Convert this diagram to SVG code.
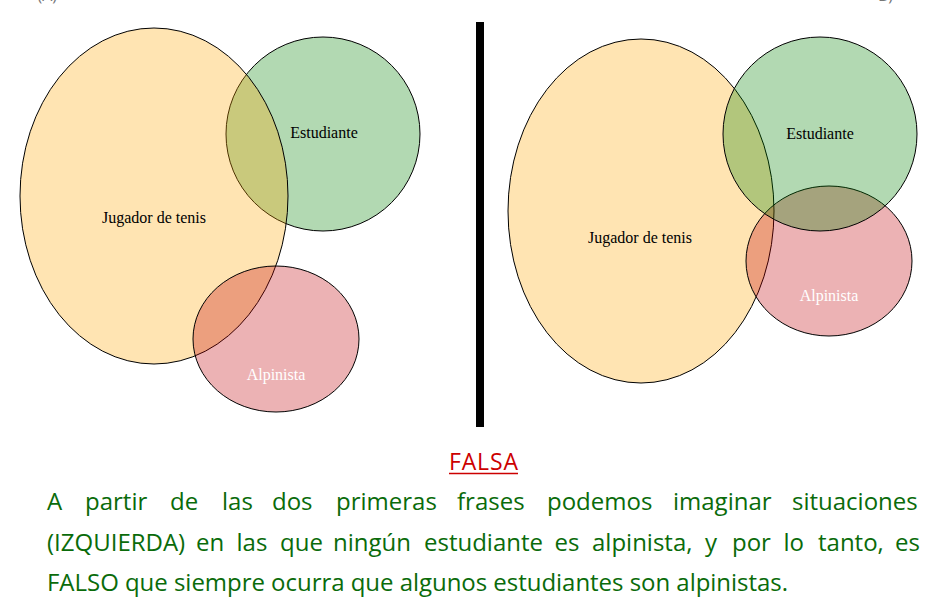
<svg xmlns="http://www.w3.org/2000/svg" width="950" height="601" viewBox="0 0 950 601">
<style>
.set{stroke:#000;stroke-width:1}
.ten{fill:#FFA500;fill-opacity:0.3}
.stu{fill:#008000;fill-opacity:0.3}
.alp{fill:#C00008;fill-opacity:0.3}
.lbl{font-family:"Liberation Serif",serif;font-size:16px;text-anchor:middle;fill:#000}
.wlbl{fill:#fff}
.para{font-family:"Open Sans","Noto Sans",sans-serif;font-size:24px;fill:#0A6B0A}
.corner{font-family:"Open Sans",sans-serif;font-size:16px;fill:#777}
</style>
<rect width="950" height="601" fill="#fff"/>
<text class="corner" x="57" y="1" text-anchor="end">(A)</text>
<text class="corner" x="893" y="1" text-anchor="end">B)</text>

<g id="left">
  <g id="L-estudiante"><circle class="set stu" cx="323" cy="134" r="97"/></g>
  <g id="L-tenis"><ellipse class="set ten" cx="154" cy="196" rx="134" ry="168"/></g>
  <g id="L-alpinista"><ellipse class="set alp" cx="276" cy="339" rx="83" ry="73"/></g>
  <text class="lbl" x="324" y="138">Estudiante</text>
  <text class="lbl" x="154" y="223">Jugador de tenis</text>
  <text class="lbl wlbl" x="276" y="380">Alpinista</text>
</g>

<g id="divider"><rect x="476" y="22" width="8" height="405" fill="#000"/></g>

<g id="right">
  <g id="R-tenis"><ellipse class="set ten" cx="641" cy="211" rx="133" ry="172"/></g>
  <g id="R-alpinista"><ellipse class="set alp" cx="829" cy="261" rx="83" ry="75"/></g>
  <g id="R-estudiante"><circle class="set stu" cx="820" cy="134" r="97"/></g>
  <text class="lbl" x="820" y="139">Estudiante</text>
  <text class="lbl" x="640" y="243">Jugador de tenis</text>
  <text class="lbl wlbl" x="829" y="301">Alpinista</text>
</g>

<g id="verdict">
  <text x="483.5" y="470" text-anchor="middle" font-family="Open Sans, Noto Sans, sans-serif" font-size="23" fill="#CC0000" textLength="69" lengthAdjust="spacing">FALSA</text>
  <line x1="449" y1="473.5" x2="518" y2="473.5" stroke="#CC0000" stroke-width="1.5"/>
</g>

<g id="explanation" class="para">
  <text y="510"><tspan x="47">A</tspan><tspan x="85">partir</tspan><tspan x="170">de</tspan><tspan x="222">las</tspan><tspan x="272">dos</tspan><tspan x="336">primeras</tspan><tspan x="457">frases</tspan><tspan x="547">podemos</tspan><tspan x="673">imaginar</tspan><tspan x="792">situaciones</tspan></text>
  <text y="551"><tspan x="47">(IZQUIERDA)</tspan><tspan x="196">en</tspan><tspan x="236.5">las</tspan><tspan x="280">que</tspan><tspan x="333">ningún</tspan><tspan x="424">estudiante</tspan><tspan x="554.5">es</tspan><tspan x="592">alpinista,</tspan><tspan x="705">y</tspan><tspan x="732">por</tspan><tspan x="783.5">lo</tspan><tspan x="818">tanto,</tspan><tspan x="895">es</tspan></text>
  <text x="47" y="591" textLength="741" lengthAdjust="spacing">FALSO que siempre ocurra que algunos estudiantes son alpinistas.</text>
</g>
</svg>
